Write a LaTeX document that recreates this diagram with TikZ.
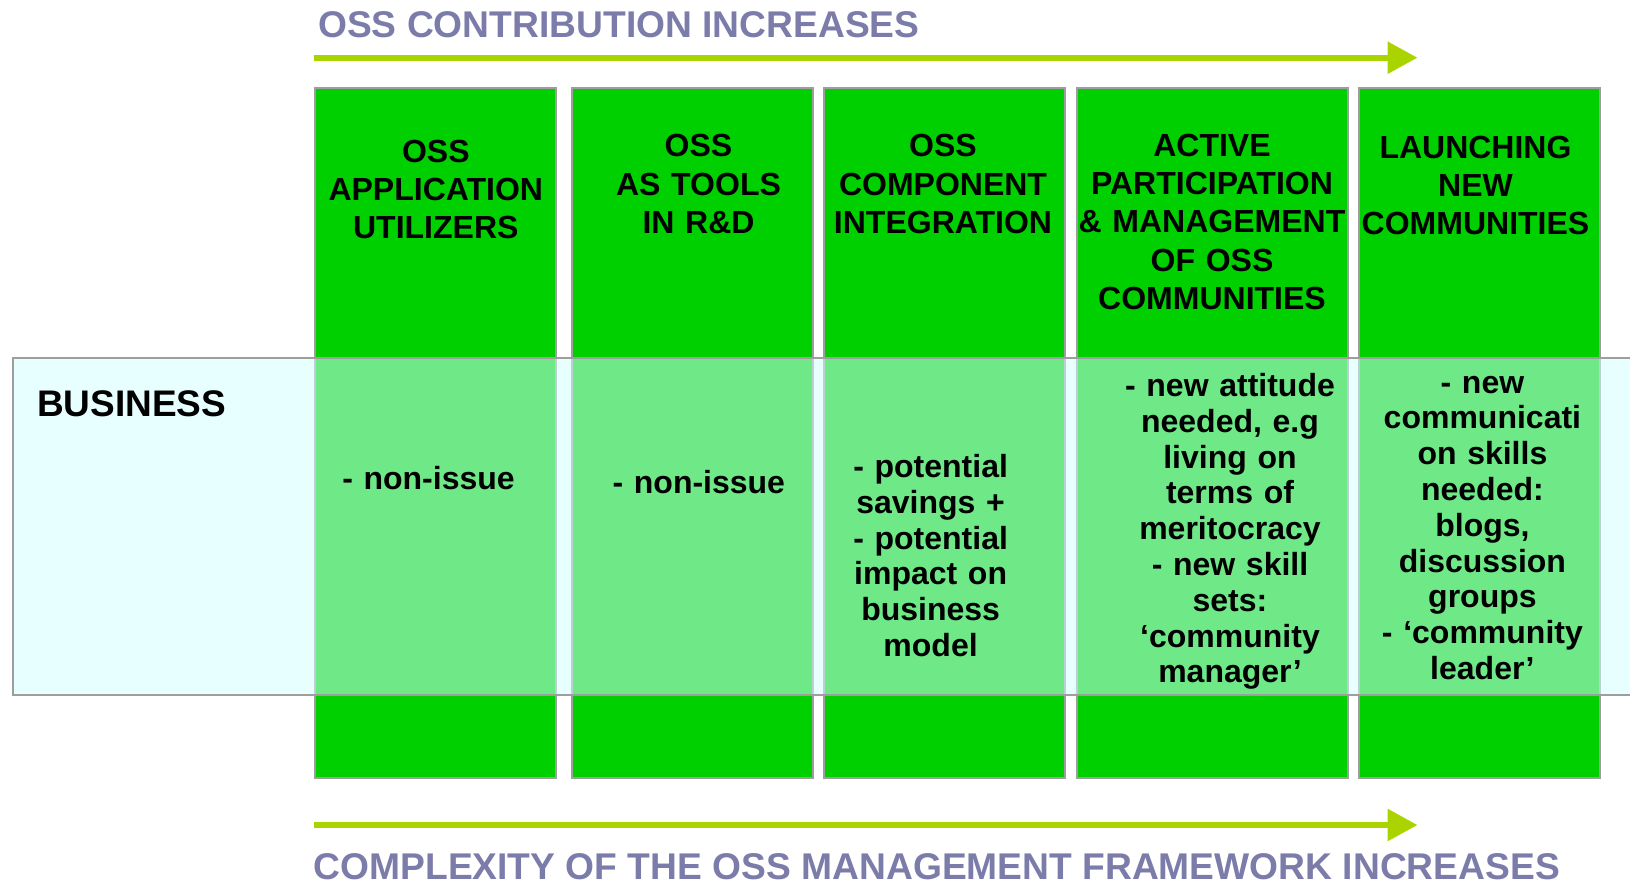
\documentclass[tikz,border=0pt]{standalone}
\usepackage{fontspec}
\setmainfont{Liberation Sans}
\usetikzlibrary{arrows.meta}

\definecolor{colgreen}{RGB}{0,208,0}
\definecolor{bandcyan}{RGB}{211,255,255}
\definecolor{edgegray}{RGB}{158,158,158}
\definecolor{arrowlime}{RGB}{170,212,0}
\definecolor{titleblue}{RGB}{124,124,170}

\begin{document}
\begin{tikzpicture}[x=1pt, y=-1pt,
    colbox/.style={draw=edgegray, line width=2pt, fill=colgreen, inner sep=0pt, minimum height=690pt},
    bandbox/.style={draw=edgegray, line width=2pt, fill=bandcyan, fill opacity=0.53, inner sep=0pt},
    headtext/.style={font=\fontsize{32}{38.3}\selectfont\bfseries, align=center, text width=280pt, inner sep=0pt, anchor=base},
    celltext/.style={font=\fontsize{32}{35.8}\selectfont\bfseries, align=center, text width=280pt, inner sep=0pt, anchor=base},
    trendtext/.style={font=\fontsize{37.2}{40}\selectfont\bfseries, text=titleblue, inner sep=0pt, anchor=base west},
    trend/.style={draw=arrowlime, line width=6pt, -{Triangle[length=30pt, width=31pt]}}]
    \useasboundingbox (0,0) rectangle (1630,887);
    % the five stages
    \foreach \l/\r [count=\i] in {314/557, 571/814, 823/1066, 1075.5/1349, 1357.5/1600.5} {
        \pgfmathsetmacro\w{\r-\l-2}
        \node[colbox, minimum width=\w pt] (col\i) at ({(\l+\r)/2}, 433) {};
    }
    % business row laid over the stages
    \node[bandbox, anchor=north west, minimum width=1630pt, minimum height=337pt] (band) at (11.8, 357) {};
    \node[font=\fontsize{37}{40}\selectfont\bfseries, inner sep=0pt, anchor=base west] (biz) at (37, 416) {BUSINESS};

    \node[headtext] (hd1) at (435.8, 162.3) {OSS\\APPLICATION\\UTILIZERS};
    \node[headtext] (hd2) at (698.5, 156.7) {OSS\\AS TOOLS\\IN R\&D};
    \node[headtext] (hd3) at (943, 156.7) {OSS\\COMPONENT\\INTEGRATION};
    \node[headtext] (hd4) at (1212, 156.2) {ACTIVE\\PARTICIPATION\\\& MANAGEMENT\\OF OSS\\COMMUNITIES};
    \node[headtext] (hd5) at (1475.5, 158.3) {LAUNCHING\\NEW\\COMMUNITIES};

    \node[celltext] (bd1) at (428.5, 489.5) {- non-issue};
    \node[celltext] (bd2) at (698.8, 493.3) {- non-issue};
    \node[celltext] (bd3) at (930.6, 477.5) {- potential\\savings +\\- potential\\impact on\\business\\model};
    \node[celltext] (bd4) at (1230, 396.5) {- new attitude\\needed, e.g\\living on\\terms of\\meritocracy\\- new skill\\sets:\\‘community\\manager’};
    \node[celltext] (bd5) at (1482.4, 393) {- new\\communicati\\on skills\\needed:\\blogs,\\discussion\\groups\\- ‘community\\leader’};

    % trend arrows with their captions
    \node[trendtext] (ttop) at (318, 37.5) {OSS CONTRIBUTION INCREASES};
    \coordinate (up0) at (314, 57.7);
    \coordinate (up1) at (1417.5, 57.7);
    \draw[trend] (up0) -- (up1);
    \coordinate (dn0) at (314, 825);
    \coordinate (dn1) at (1417.5, 825);
    \draw[trend] (dn0) -- (dn1);
    \node[trendtext] (tbot) at (313.5, 879.5) {COMPLEXITY OF THE OSS MANAGEMENT FRAMEWORK INCREASES};
\end{tikzpicture}
\end{document}
